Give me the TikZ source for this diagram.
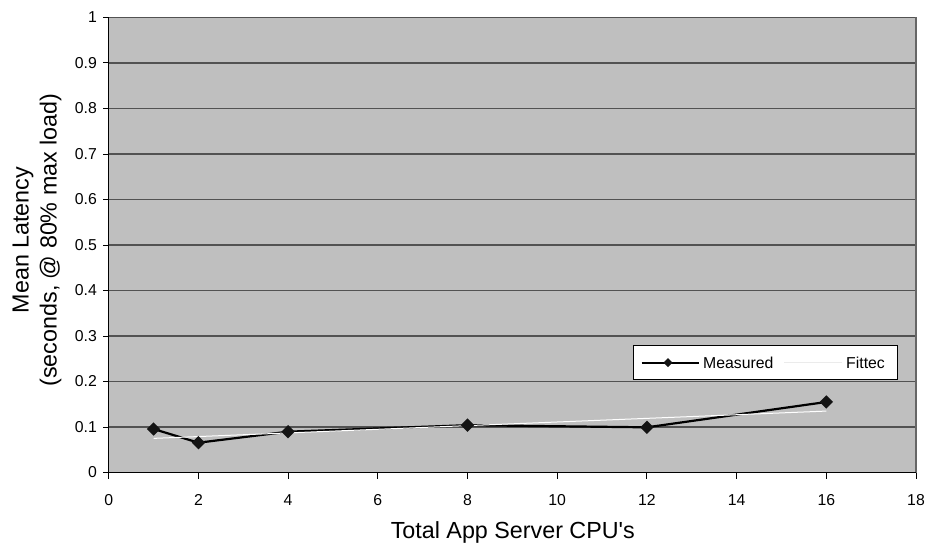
\documentclass[tikz,border=0pt]{standalone}
\usepackage{fontspec}
\setmainfont{Liberation Sans}[Ligatures=TeXOff]
\usetikzlibrary{calc}
\begin{document}
\begin{tikzpicture}[x=1pt,y=-1pt,
  grid/.style={draw=black!68,line width=1.3pt},
  axis/.style={draw=black,line width=1.2pt},
  tick/.style={draw=black,line width=1pt},
  ticklab/.style={font=\fontsize{15.8}{18}\selectfont,inner sep=0pt},
  leglab/.style={font=\fontsize{15.8}{18}\selectfont,inner sep=0pt},
  title/.style={font=\fontsize{23.3}{28}\selectfont,inner sep=0pt},
  meas/.style={draw=black,line width=2.2pt,line join=round},
  fit/.style={draw=white,line width=1pt},
  mk/.style={fill=black!92,draw=none},
  legbox/.style={draw=black,fill=white,line width=1pt}]
\useasboundingbox (0,0) rectangle (925,545);
\def\XX#1{108.7+44.85*#1}
\def\YY#1{472.5-455*#1}
% plot area
\fill[black!25] (108.7,17.5) rectangle (916,472.5);
\foreach \v in {0.1,0.2,...,1.0} {\draw[grid] (108.7,{\YY{\v}}) -- (916,{\YY{\v}});}
\draw[draw=black!60,line width=1.3pt] (916,17.5) -- (916,472.5);
\draw[axis] (108.7,17.5) -- (108.7,472.5) -- (916,472.5);
% y ticks and labels
\foreach \v/\t in {0/0,0.1/0.1,0.2/0.2,0.3/0.3,0.4/0.4,0.5/0.5,0.6/0.6,0.7/0.7,0.8/0.8,0.9/0.9,1/1} {
  \draw[tick] (103,{\YY{\v}}) -- (108.7,{\YY{\v}});
  \node[ticklab,anchor=east] (yl\t) at (97,{\YY{\v}}) {\t};
}
% x ticks and labels
\foreach \v in {0,2,...,18} {
  \draw[tick] ({\XX{\v}},472.5) -- ({\XX{\v}},478.5);
  \node[ticklab] (xl\v) at ({\XX{\v}},500) {\v};
}
% axis titles
\node[title,anchor=base] (xtitle) at (512.8,538.5) {Total App Server CPU's};
\node[title,rotate=90,align=center] (ytitle) at (37,240) {Mean Latency\\(seconds, @ 80\% max load)};
% data
\coordinate (p1) at ({\XX{1}},{\YY{0.0956}});
\coordinate (p2) at ({\XX{2}},{\YY{0.0655}});
\coordinate (p3) at ({\XX{4}},{\YY{0.0897}});
\coordinate (p4) at ({\XX{8}},{\YY{0.104}});
\coordinate (p5) at ({\XX{12}},{\YY{0.0993}});
\coordinate (p6) at ({\XX{16}},{\YY{0.155}});
\coordinate (f1) at ({\XX{1}},{\YY{0.075}});
\coordinate (f2) at ({\XX{16}},{\YY{0.135}});
\draw[meas] (p1) -- (p2) -- (p3) -- (p4) -- (p5) -- (p6);
\draw[fit] (f1) -- (f2);
\foreach \p in {p1,p2,p3,p4,p5,p6} {
  \fill[mk] ($(\p)+(-6.7,0)$) -- ($(\p)+(0,-6.7)$) -- ($(\p)+(6.7,0)$) -- ($(\p)+(0,6.7)$) -- cycle;
}
% legend
\draw[legbox] (633,345.7) rectangle (897.7,379.3);
\coordinate (lm1) at (641.7,362.7);
\coordinate (lm2) at (699,362.7);
\coordinate (lmk) at (668,362.7);
\draw[draw=black,line width=1.6pt] (lm1) -- (lm2);
\fill[mk] ($(lmk)+(-4.5,0)$) -- ($(lmk)+(0,-4.5)$) -- ($(lmk)+(4.5,0)$) -- ($(lmk)+(0,4.5)$) -- cycle;
\node[leglab,anchor=west] (lmeas) at (703,363) {Measured};
\coordinate (lf1) at (784,362.7);
\coordinate (lf2) at (842,362.7);
\draw[draw=black!8,line width=1pt] (lf1) -- (lf2);
\node[leglab,anchor=west] (lfit) at (846,363) {Fittec};
\end{tikzpicture}
\end{document}
